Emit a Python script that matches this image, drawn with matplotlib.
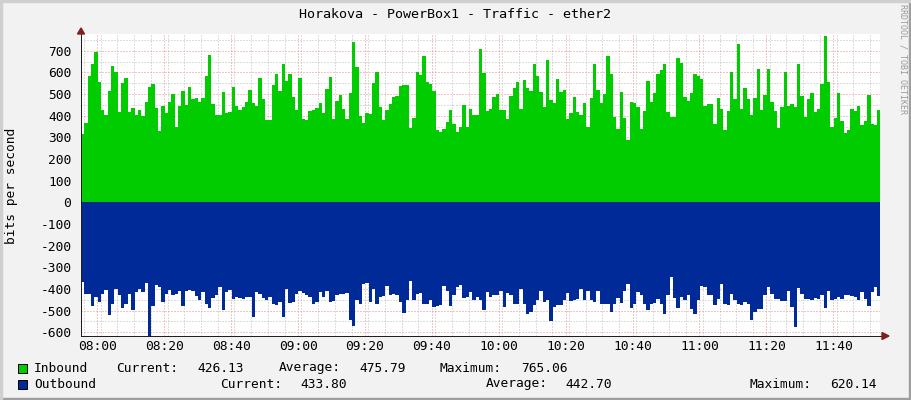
import numpy as np
import matplotlib
matplotlib.use("Agg")
import matplotlib.pyplot as plt
from matplotlib.patches import Rectangle, Polygon

title = "Horakova - PowerBox1 - Traffic - ether2"
y_label = "bits per second"
x_tick_labels = ["08:00", "08:20", "08:40", "09:00", "09:20", "09:40",
                 "10:00", "10:20", "10:40", "11:00", "11:20", "11:40"]
y_tick_values = list(range(-600, 701, 100))

inbound = [
    315, 365, 583, 640, 694, 555, 426, 403, 514, 630,
    600, 417, 550, 572, 417, 434, 403, 426, 398, 463,
    532, 546, 435, 331, 445, 414, 463, 500, 348, 445,
    514, 449, 532, 477, 482, 465, 482, 583, 680, 454,
    403, 403, 509, 412, 417, 532, 445, 426, 440, 463,
    518, 458, 445, 574, 477, 380, 380, 542, 592, 514,
    638,
    560, 592, 486, 426, 574, 385, 380, 422, 426, 435,
    458, 412, 523, 578, 385, 468, 495, 431, 385, 505,
    740, 625, 399, 366, 412, 408, 551, 602, 440, 380,
    426, 454, 486, 491, 537, 542, 542, 343, 389, 602,
    588, 675, 555, 546, 514, 334, 325, 338, 371, 426,
    362, 325, 348, 449, 348, 431, 403, 403, 708, 597,
    422,
    431, 486, 500, 426, 426, 385, 491, 528, 555, 431,
    565, 530, 514, 638, 583, 509, 440, 657, 472, 458,
    569, 509, 518, 385, 412, 486, 417, 403, 458, 348,
    482, 638, 518, 458, 500, 675, 592, 394, 339, 509,
    389, 288, 463, 458, 440, 339, 422, 560, 463, 505,
    592, 611, 638, 417, 394, 394, 666, 643, 486, 468,
    505,
    592, 583, 569, 445, 454, 454, 362, 482, 431, 334,
    422, 602, 477, 731, 431, 528, 477, 403, 482, 615,
    426, 495, 615, 463, 422, 343, 440, 602, 445, 454,
    440, 638, 491, 394, 477, 505, 417, 431, 546, 768,
    555, 348, 389, 505, 375, 320, 334, 431, 422, 445,
    357, 375, 495, 362, 357, 426,
]

outbound = [
    367, 423, 423, 477, 438, 462, 423, 405, 518, 468,
    400, 426, 486, 468, 423, 495, 414, 400, 414, 373,
    620, 477, 383, 389, 458, 423, 405, 426, 423, 411,
    477, 408, 403, 408, 433, 453, 414, 468, 486, 441,
    426, 392, 498, 414, 405, 448, 438, 441, 444, 435,
    435, 529, 414, 423, 441, 450, 438, 468, 474, 462,
    529,
    400, 465, 462, 423, 410, 420, 427, 438, 468, 462,
    415, 435, 408, 461, 455, 426, 423, 423, 420, 544,
    571, 453, 468, 377, 374, 462, 400, 468, 438, 433,
    385, 426, 423, 430, 462, 511, 453, 362, 450, 423,
    420, 468, 468, 453, 483, 480, 476, 385, 408, 480,
    430, 392, 380, 441, 435, 415, 453, 438, 450, 498, 415,
    438, 426, 429, 411, 483, 420, 430, 468, 470, 400,
    468, 514, 506, 476, 453, 411, 461, 453, 547, 483,
    476, 476, 453, 420, 455, 453, 445, 400, 453, 408,
    453, 462, 408, 468, 471, 471, 506, 468, 441, 465,
    408, 377, 486, 468, 415, 426, 468, 498, 468, 465,
    445, 468, 514, 430, 344, 441, 486, 435, 453, 430,
    491, 514, 453, 385, 389, 430, 430, 476, 447, 377,
    468, 474, 423, 453, 468, 476, 461, 468, 544, 508,
    491, 491, 430, 392, 423, 445, 445, 455, 456, 408,
    483, 574, 395, 423, 447, 447, 453, 441, 447, 430,
    486, 408, 453, 445, 435, 445, 426, 426, 432, 435,
    453, 415, 445, 477, 415, 389, 434,
]

legend_in = ["Inbound", "Current:", "426.13", "Average:", "475.79", "Maximum:", "765.06"]
legend_out = ["Outbound", "Current:", "433.80", "Average:", "442.70", "Maximum:", "620.14"]

W, H = 911, 400
MONO = "DejaVu Sans Mono"
FS = 9.3

fig = plt.figure(figsize=(W / 100, H / 100), dpi=100, facecolor="#F2F2F2")

L, R, T, B = 81, 880, 34, 336
ax = fig.add_axes([L / W, (H - B) / H, (R - L) / W, (B - T) / H])
ax.set_facecolor("white")

start_min = 7 * 60 + 55.13
span_min = 238.83
n = len(inbound)
edges = start_min + np.arange(n + 1)

ax.stairs(inbound, edges, baseline=0, fill=True, color="#00CC00", lw=0, zorder=2)
ax.stairs(-np.array(outbound), edges, baseline=0, fill=True, color="#002A97", lw=0, zorder=2)

ax.set_xlim(start_min, start_min + span_min)
ax.set_ylim(-617, 777)

major_x = [8 * 60 + 20 * i for i in range(len(x_tick_labels))]
ax.set_xticks(major_x)
ax.set_xticklabels(x_tick_labels, fontfamily=MONO, fontsize=FS)
ax.set_xticks(np.arange(start_min + 0.87, start_min + span_min, 5), minor=True)
ax.set_yticks(y_tick_values)
ax.set_yticklabels([str(v) for v in y_tick_values], fontfamily=MONO, fontsize=FS)
ax.set_yticks(np.arange(-600, 777, 50), minor=True)

ax.set_axisbelow(True)
ax.grid(which="minor", color="#BDBDBD", linestyle=(0, (1, 2)), lw=0.72)
ax.grid(which="major", color="#E88A8A", linestyle=(0, (1, 2)), lw=0.72)
ax.tick_params(which="both", length=0)
ax.tick_params(axis="x", pad=3)
ax.tick_params(axis="y", pad=7)

for s in ["top", "right"]:
    ax.spines[s].set_visible(False)
for s in ["left", "bottom"]:
    ax.spines[s].set_color("#1F1F1F")
    ax.spines[s].set_linewidth(0.72)


def fx(x):
    return x / W


def fy(y):
    return 1 - y / H


# arrows
fig.patches.append(Polygon([[fx(77.5), fy(34)], [fx(84.5), fy(34)], [fx(81), fy(28)]],
                           closed=True, transform=fig.transFigure, color="#7F1F1F", zorder=5))
fig.patches.append(Polygon([[fx(882), fy(332.5)], [fx(882), fy(339.5)], [fx(889), fy(336)]],
                           closed=True, transform=fig.transFigure, color="#7F1F1F", zorder=5))
fig.lines.append(plt.Line2D([fx(880), fx(883)], [fy(336), fy(336)], transform=fig.transFigure,
                            color="#1F1F1F", lw=0.72))

# title & labels
fig.text(fx(455), fy(14), title, ha="center", va="center", fontfamily=MONO, fontsize=FS + 0.3)
fig.text(fx(12), fy(186), y_label, ha="center", va="center", rotation=90,
         fontfamily=MONO, fontsize=FS)
fig.text(fx(903), fy(4), "RRDTOOL / TOBI OETIKER", ha="center", va="top", rotation=270,
         fontfamily=MONO, fontsize=6.0, color="#9A9A9A")

# legend
row1_x = [34, 116, 197, 279, 359, 440, 521]
row2_x = [34, 220, 300, 486, 565, 750, 830]
for y, xs, txts, col in [(368, row1_x, legend_in, "#00CC00"), (384, row2_x, legend_out, "#002A97")]:
    fig.patches.append(Rectangle((fx(18), fy(y + 4.5)), 9 / W, 9 / H, transform=fig.transFigure,
                                 facecolor=col, edgecolor="black", lw=0.7))
    for x, t in zip(xs, txts):
        fig.text(fx(x), fy(y), t, ha="left", va="center", fontfamily=MONO, fontsize=FS)

# outer frame shading
fig.patches.append(Rectangle((0, 0), 1, 2 / H, transform=fig.transFigure, color="#9E9E9E"))
fig.patches.append(Rectangle((1 - 2 / W, 0), 2 / W, 1, transform=fig.transFigure, color="#9E9E9E"))
fig.patches.append(Rectangle((0, 1 - 2 / H), 1, 2 / H, transform=fig.transFigure, color="#CFCFCF"))
fig.patches.append(Rectangle((0, 0), 2 / W, 1, transform=fig.transFigure, color="#CFCFCF"))

fig.savefig("out.png", dpi=100, facecolor=fig.get_facecolor())
